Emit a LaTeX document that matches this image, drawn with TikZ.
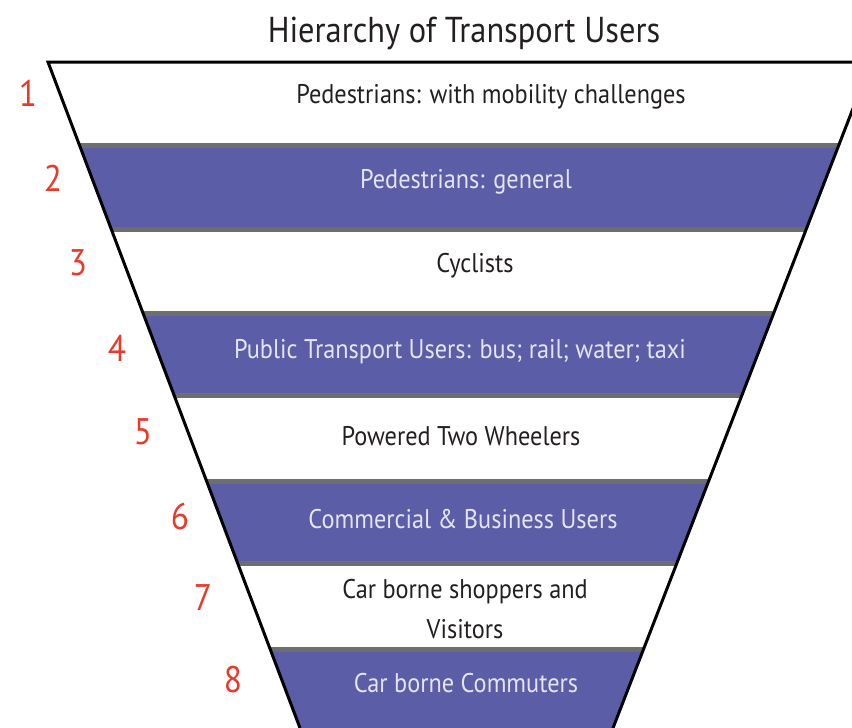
\documentclass[tikz,border=0pt]{standalone}
\usepackage{fontspec}
\setmainfont[FakeStretch=0.9]{PT Sans}
\usetikzlibrary{positioning}
\definecolor{bandblue}{HTML}{5B5DA6}
\definecolor{bandgray}{HTML}{6D6E70}
\definecolor{rankred}{HTML}{E8392B}
\definecolor{darktext}{HTML}{231F20}
\definecolor{lighttext}{HTML}{E4E4F0}

\begin{document}
\begin{tikzpicture}[x=1pt, y=-1pt,
                every node/.append style = {inner sep=0pt, anchor=base, font=\fontsize{27}{32}\selectfont},
                rank/.style = {text=rankred, anchor=center, font=\fontsize{37}{40}\selectfont},
                dark/.style = {text=darktext},
                light/.style = {text=lighttext},
                band/.style = {fill=bandblue},
                rim/.style = {draw=bandgray, line width=5pt},
                side/.style = {draw=black, line width=3pt, line join=miter}]
            \useasboundingbox (0,0) rectangle (852,728);
            \coordinate (tl) at (48,62);
            \coordinate (tr) at (871,62);
            \coordinate (br) at (613,728);
            \coordinate (bl) at (300,728);
            \begin{scope}
                \clip (tl) -- (tr) -- (br) -- (bl) -- cycle;
                \fill[band] (0,143) rectangle (852,232);
                \fill[band] (0,311) rectangle (852,398);
                \fill[band] (0,479) rectangle (852,566);
                \fill[band] (0,647) rectangle (852,728);
                \draw[rim] (0,145.5) -- (852,145.5);
                \draw[rim] (0,229.5) -- (852,229.5);
                \draw[rim] (0,313.5) -- (852,313.5);
                \draw[rim] (0,395.5) -- (852,395.5);
                \draw[rim] (0,481.5) -- (852,481.5);
                \draw[rim] (0,563.5) -- (852,563.5);
                \draw[rim] (0,649.5) -- (852,649.5);
            \end{scope}
            \draw[side] (bl) -- (tl) -- (tr) -- (br);
            \node[dark, font=\fontsize{36}{40}\selectfont] (title) at (464,42) {Hierarchy of Transport Users};
            \node[dark] (u1) at (491,103) {Pedestrians: with mobility challenges};
            \node[light] (u2) at (466,188) {Pedestrians: general};
            \node[dark] (u3) at (475,272) {Cyclists};
            \node[light] (u4) at (460,358) {Public Transport Users: bus; rail; water; taxi};
            \node[dark] (u5) at (461,445) {Powered Two Wheelers};
            \node[light] (u6) at (463,528) {Commercial \& Business Users};
            \node[dark] (u7) at (465,598) {Car borne shoppers and};
            \node[dark] (u7b) at (465,638) {Visitors};
            \node[light] (u8) at (466,692) {Car borne Commuters};
            \node[rank] (r1) at (28,93) {1};
            \node[rank] (r2) at (53,178) {2};
            \node[rank] (r3) at (78,263) {3};
            \node[rank] (r4) at (117,348) {4};
            \node[rank] (r5) at (143,432) {5};
            \node[rank] (r6) at (180,517) {6};
            \node[rank] (r7) at (203,598) {7};
            \node[rank] (r8) at (233,680) {8};
\end{tikzpicture}
\end{document}
